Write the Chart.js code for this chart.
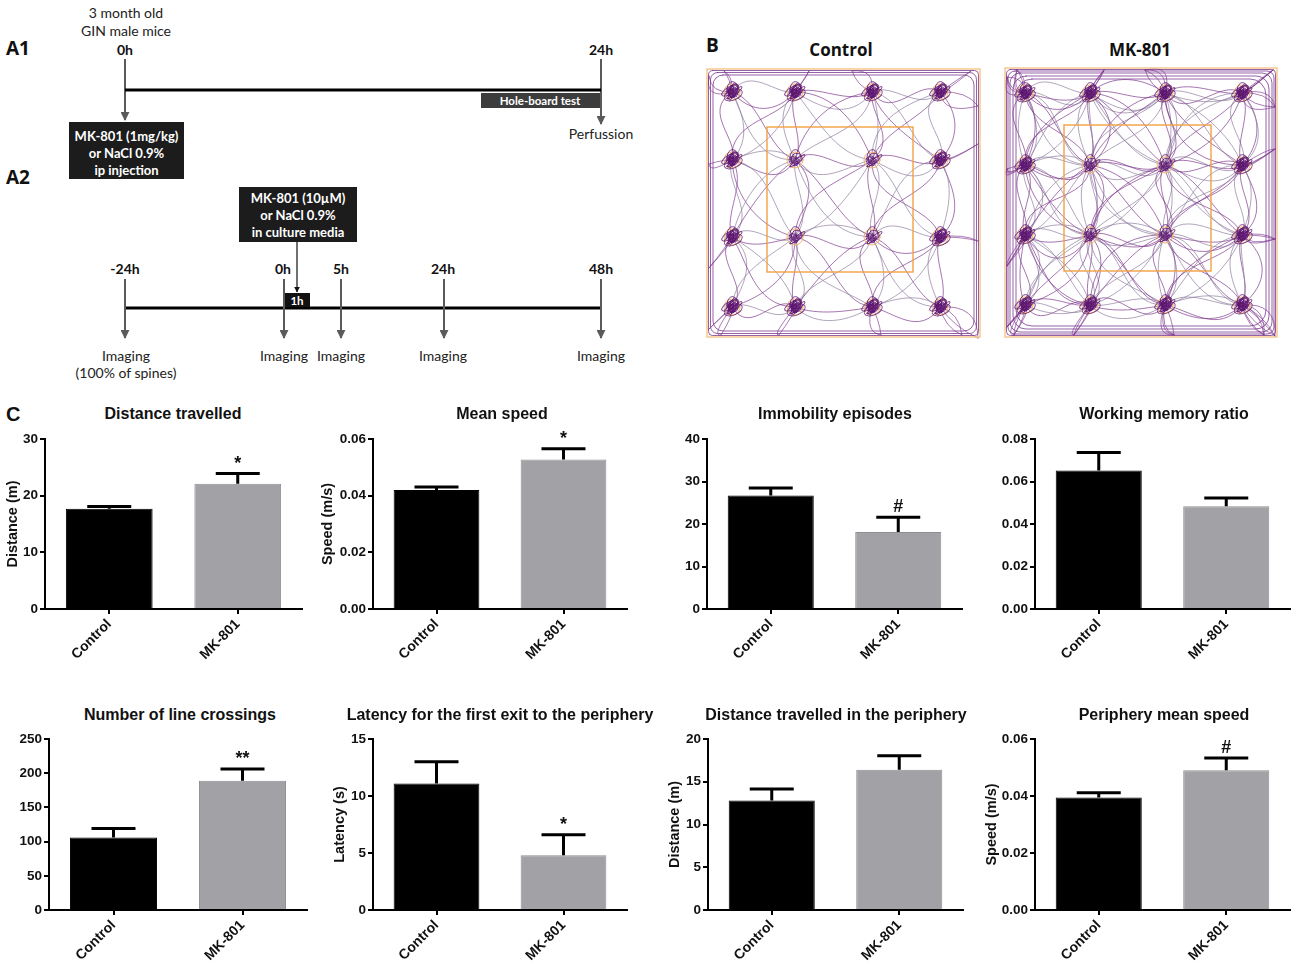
<!DOCTYPE html>
<html>
<head>
<meta charset="utf-8">
<script src="https://cdn.jsdelivr.net/npm/chart.js@4.4.0/dist/chart.umd.min.js"></script>
<style>
  body { margin: 0; background: #fff; }
  #page { position: relative; width: 1300px; height: 965px; overflow: hidden; background: #fff; }
  #diagram { position: absolute; left: 0; top: 0; }
  .ptitle { position: absolute; width: 400px; text-align: center; font: bold 16px "Liberation Sans", Arial, sans-serif; line-height: 20px; color: #111; white-space: nowrap; }
  canvas.bar { position: absolute; }
  .lt { font-family: Lato, "Open Sans", sans-serif; font-size: 14px; fill: #222; }
  .lb { font-family: Lato, "Open Sans", sans-serif; font-size: 14px; font-weight: bold; fill: #111; }
  .wb { font-family: Lato, "Open Sans", sans-serif; font-size: 13px; font-weight: bold; fill: #fff; }
  .big { font-family: "Open Sans", sans-serif; font-size: 19px; font-weight: bold; fill: #111; }
</style>
</head>
<body>
<div id="page">
<svg id="diagram" width="1300" height="965" xmlns="http://www.w3.org/2000/svg">
  <defs>
    <marker id="ah" viewBox="0 0 10 10" refX="9" refY="5" markerWidth="4.5" markerHeight="4.5" orient="auto">
      <path d="M0,0 L10,5 L0,10 z" fill="#5a5a5a"/>
    </marker>
    <marker id="ahk" viewBox="0 0 10 10" refX="9" refY="5" markerWidth="5" markerHeight="5" orient="auto">
      <path d="M0,0 L10,5 L0,10 z" fill="#111"/>
    </marker>
  </defs>

  <!-- A1 -->
  <text class="big" x="6" y="55">A1</text>
  <text class="lt" x="126" y="18" text-anchor="middle">3 month old</text>
  <text class="lt" x="126" y="36" text-anchor="middle">GIN male mice</text>
  <text class="lb" x="125" y="55" text-anchor="middle">0h</text>
  <text class="lb" x="601" y="55" text-anchor="middle">24h</text>
  <line x1="125" y1="59" x2="125" y2="120" stroke="#5a5a5a" stroke-width="2" marker-end="url(#ah)"/>
  <line x1="601" y1="59" x2="601" y2="124" stroke="#5a5a5a" stroke-width="2" marker-end="url(#ah)"/>
  <line x1="125" y1="90" x2="601" y2="90" stroke="#000" stroke-width="3"/>
  <rect x="481" y="93" width="119" height="15" fill="#3c3c3c"/>
  <text class="wb" x="540" y="105" text-anchor="middle" style="font-size:11.5px">Hole-board test</text>
  <text class="lt" x="601" y="139" text-anchor="middle">Perfussion</text>
  <rect x="69" y="122" width="115" height="57" fill="#1c1c1c"/>
  <text class="wb" x="126.5" y="141" text-anchor="middle">MK-801 (1mg/kg)</text>
  <text class="wb" x="126.5" y="158" text-anchor="middle">or NaCl 0.9%</text>
  <text class="wb" x="126.5" y="175" text-anchor="middle">ip injection</text>

  <!-- A2 -->
  <text class="big" x="6" y="184">A2</text>
  <rect x="239" y="187" width="118" height="55" fill="#1c1c1c"/>
  <text class="wb" x="298" y="203" text-anchor="middle">MK-801 (10µM)</text>
  <text class="wb" x="298" y="220" text-anchor="middle">or NaCl 0.9%</text>
  <text class="wb" x="298" y="237" text-anchor="middle">in culture media</text>
  <line x1="297" y1="242" x2="297" y2="292" stroke="#111" stroke-width="1.2" marker-end="url(#ahk)"/>
  <text class="lb" x="125" y="274" text-anchor="middle">-24h</text>
  <text class="lb" x="283" y="274" text-anchor="middle">0h</text>
  <text class="lb" x="341" y="274" text-anchor="middle">5h</text>
  <text class="lb" x="443" y="274" text-anchor="middle">24h</text>
  <text class="lb" x="601" y="274" text-anchor="middle">48h</text>
  <line x1="125" y1="308" x2="601" y2="308" stroke="#000" stroke-width="3"/>
  <rect x="284" y="293" width="26" height="14" fill="#111"/>
  <text class="wb" x="297" y="304.5" text-anchor="middle" style="font-size:11.5px">1h</text>
  <line x1="125" y1="279" x2="125" y2="338" stroke="#5a5a5a" stroke-width="2" marker-end="url(#ah)"/>
  <line x1="284" y1="279" x2="284" y2="338" stroke="#5a5a5a" stroke-width="2" marker-end="url(#ah)"/>
  <line x1="341" y1="279" x2="341" y2="338" stroke="#5a5a5a" stroke-width="2" marker-end="url(#ah)"/>
  <line x1="444" y1="279" x2="444" y2="338" stroke="#5a5a5a" stroke-width="2" marker-end="url(#ah)"/>
  <line x1="601" y1="279" x2="601" y2="338" stroke="#5a5a5a" stroke-width="2" marker-end="url(#ah)"/>
  <text class="lt" x="126" y="361" text-anchor="middle">Imaging</text>
  <text class="lt" x="126" y="378" text-anchor="middle">(100% of spines)</text>
  <text class="lt" x="284" y="361" text-anchor="middle">Imaging</text>
  <text class="lt" x="341" y="361" text-anchor="middle">Imaging</text>
  <text class="lt" x="443" y="361" text-anchor="middle">Imaging</text>
  <text class="lt" x="601" y="361" text-anchor="middle">Imaging</text>

  <!-- B -->
  <text class="big" x="706" y="52">B</text>
  <text class="big" x="841" y="56" text-anchor="middle" style="font-size:17px">Control</text>
  <text class="big" x="1140" y="56" text-anchor="middle" style="font-size:17px">MK-801</text>
  <g id="arenas"></g>

  <!-- C -->
  <text x="6" y="421" style="font:bold 20px 'Liberation Sans',Arial,sans-serif;fill:#111">C</text>
</svg>
</div>

<script>
// ---- panel C data ----
const groups = ['Control', 'MK-801'];
const titles = [
  'Distance travelled', 'Mean speed', 'Immobility episodes', 'Working memory ratio',
  'Number of line crossings', 'Latency for the first exit to the periphery',
  'Distance travelled in the periphery', 'Periphery mean speed'
];
const yTitles = ['Distance (m)', 'Speed (m/s)', '', '', '', 'Latency (s)', 'Distance (m)', 'Speed (m/s)'];
const means = [
  [17.7, 22.1], [0.042, 0.0528], [26.7, 18.1], [0.0652, 0.0483],
  [106, 189], [11.1, 4.8], [12.8, 16.4], [0.0395, 0.049]
];
const sems = [
  [0.4, 1.8], [0.0011, 0.0038], [1.8, 3.5], [0.0085, 0.0039],
  [13, 17], [1.9, 1.8], [1.35, 1.65], [0.0016, 0.0043]
];
const marks = [['', '*'], ['', '*'], ['', '#'], ['', ''], ['', '**'], ['', '*'], ['', ''], ['', '#']];
const yMax = [30, 0.06, 40, 0.08, 250, 15, 20, 0.06];
const yStep = [10, 0.02, 10, 0.02, 50, 5, 5, 0.02];
const yDecimals = [0, 2, 0, 2, 0, 0, 0, 2];

// ---- panel B arena hole positions ----
const ctrlHolesX = [732, 795, 872, 940];
const ctrlHolesY = [92, 160, 237, 307];
const mkHolesX = [1025, 1090, 1165, 1242];
const mkHolesY = [93, 165, 235, 305];

// ---- layout ----
const layout = [
  { x0: 45, x1: 302, row: 0, w: 43, tc: 173 },
  { x0: 373, x1: 627, row: 0, w: 56, tc: 502 },
  { x0: 707, x1: 962, row: 0, w: 50, tc: 835 },
  { x0: 1035, x1: 1290, row: 0, w: 50, tc: 1164 },
  { x0: 49, x1: 307, row: 1, w: 50, tc: 180 },
  { x0: 373, x1: 627, row: 1, w: 44, tc: 500 },
  { x0: 708, x1: 963, row: 1, w: 44, tc: 836 },
  { x0: 1035, x1: 1290, row: 1, w: 54, tc: 1164 }
];
const rows = [{ top: 439, bottom: 609, title: 414 }, { top: 739, bottom: 910, title: 715 }];
const PAD_T = 20, PAD_R = 12, AXIS_H = 62;
const FONT = '"Liberation Sans", Arial, sans-serif';

const page = document.getElementById('page');

// arenas (hole-board tracks, drawn as a schematic)
const NS = 'http://www.w3.org/2000/svg';
const arenasG = document.getElementById('arenas');
function el(tag, attrs, parent) {
  const e = document.createElementNS(NS, tag);
  for (const k in attrs) e.setAttribute(k, attrs[k]);
  (parent || arenasG).appendChild(e);
  return e;
}
const bends = [-16, 9, 22, -27, 4, -8, 14, -20, 31, -11];
function drawArena(box, inner, hx, hy, passes, walls) {
  const g = el('g', { fill: 'none', 'stroke-linecap': 'round' });
  const [bx, by, bw, bh] = box;
  // wall-following tracks
  walls.forEach((d, k) => el('rect', { x: bx + d, y: by + d, width: bw - 2 * d, height: bh - 2 * d, rx: 4 + k * 3, stroke: '#75308a', 'stroke-width': 0.9, 'stroke-opacity': 0.85 }, g));
  const holes = [];
  hy.forEach(y => hx.forEach(x => holes.push([x, y])));
  // tracks between neighbouring holes
  holes.forEach((a, i) => holes.forEach((b, j) => {
    if (j <= i) return;
    const gi = [i % 4, Math.floor(i / 4)], gj = [j % 4, Math.floor(j / 4)];
    if (Math.abs(gi[0] - gj[0]) > 1 || Math.abs(gi[1] - gj[1]) > 1) return;
    const dx = b[0] - a[0], dy = b[1] - a[1], len = Math.hypot(dx, dy);
    const nx = -dy / len, ny = dx / len;
    for (let k = 0; k < passes; k++) {
      const o1 = bends[(i + 2 * j + k) % bends.length];
      const o2 = bends[(3 * i + j + 2 * k + 1) % bends.length];
      const c1x = a[0] + dx * 0.3 + nx * o1, c1y = a[1] + dy * 0.3 + ny * o1;
      const c2x = a[0] + dx * 0.7 + nx * o2, c2y = a[1] + dy * 0.7 + ny * o2;
      el('path', { d: `M${a[0]},${a[1]} C${c1x},${c1y} ${c2x},${c2y} ${b[0]},${b[1]}`, stroke: k % 2 ? '#8c7a9c' : '#7a338a', 'stroke-width': 0.8, 'stroke-opacity': 0.85 }, g);
    }
  }));
  // tracks from edge holes to the nearest wall
  holes.forEach(([x, y], i) => {
    const c = i % 4, r = Math.floor(i / 4);
    const ends = [];
    if (c === 0) ends.push([bx + 2, y + bends[i % 10]]);
    if (c === 3) ends.push([bx + bw - 2, y + bends[(i + 3) % 10]]);
    if (r === 0) ends.push([x + bends[(i + 5) % 10], by + 2]);
    if (r === 3) ends.push([x + bends[(i + 7) % 10], by + bh - 2]);
    ends.forEach(([ex, ey], k) => {
      for (let p = 0; p < passes; p++) {
        const o = bends[(i + k + p * 3) % 10] * 0.6;
        el('path', { d: `M${x},${y} Q${(x + ex) / 2 + o},${(y + ey) / 2 - o} ${ex},${ey}`, stroke: '#7a338a', 'stroke-width': 0.8, 'stroke-opacity': 0.8 }, g);
      }
    });
  });
  // dense scribbles at holes
  holes.forEach(([x, y], i) => {
    el('circle', { cx: x, cy: y, r: 8, stroke: '#f3b36a', 'stroke-width': 1 }, g);
    const outer = (i % 4 === 0 || i % 4 === 3 || i < 4 || i > 11);
    const n = outer ? 14 : 6;
    for (let k = 0; k < n; k++) {
      const ox = Math.cos(k * 2.4) * (1 + (k % 4)), oy = Math.sin(k * 2.4) * (1 + (k % 3));
      el('ellipse', {
        cx: x + ox, cy: y + oy, rx: 3 + (k % 4) * 2.2, ry: 2 + (k % 3) * 1.6,
        transform: `rotate(${k * 47} ${x + ox} ${y + oy})`,
        stroke: '#5e1670', 'stroke-width': 0.9, 'stroke-opacity': 0.85
      }, g);
    }
  });
  el('rect', { x: inner[0], y: inner[1], width: inner[2], height: inner[3], stroke: '#f2a044', 'stroke-width': 1.4 }, g);
  el('rect', { x: bx, y: by, width: bw, height: bh, stroke: '#f6c488', 'stroke-width': 1.4 }, g);
}
drawArena([707, 69, 273, 268], [767, 127, 146, 145], ctrlHolesX, ctrlHolesY, 2, [1.5, 3.5, 6]);
drawArena([1005, 68, 272, 269], [1064, 125, 147, 146], mkHolesX, mkHolesY, 4, [1.5, 3, 5, 8, 11]);

// error bars + significance marks
const errorBars = {
  id: 'errorBars',
  afterDatasetsDraw(chart) {
    const ctx = chart.ctx;
    const ys = chart.scales.y;
    const ds = chart.data.datasets[0];
    chart.getDatasetMeta(0).data.forEach((bar, j) => {
      const top = ys.getPixelForValue(ds.data[j] + ds.sem[j]);
      ctx.save();
      ctx.strokeStyle = '#000';
      ctx.lineWidth = 3;
      ctx.beginPath();
      ctx.moveTo(bar.x, bar.y);
      ctx.lineTo(bar.x, top);
      ctx.moveTo(bar.x - 22, top);
      ctx.lineTo(bar.x + 22, top);
      ctx.stroke();
      if (ds.marks[j]) {
        ctx.fillStyle = '#111';
        ctx.font = 'bold 18px ' + FONT;
        ctx.textAlign = 'center';
        ctx.textBaseline = 'alphabetic';
        ctx.fillText(ds.marks[j], bar.x, top - 5);
      }
      ctx.restore();
    });
  }
};

means.forEach((m, i) => {
  const L = layout[i];
  const R = rows[L.row];
  const w = L.w + (L.x1 - L.x0) + PAD_R;
  const h = PAD_T + (R.bottom - R.top) + AXIS_H;

  const t = document.createElement('div');
  t.className = 'ptitle';
  t.style.left = (L.tc - 200) + 'px';
  t.style.top = (R.title - 10) + 'px';
  t.textContent = titles[i];
  page.appendChild(t);

  const c = document.createElement('canvas');
  c.className = 'bar';
  c.width = w;
  c.height = h;
  c.style.left = (L.x0 - L.w) + 'px';
  c.style.top = (R.top - PAD_T) + 'px';
  c.style.width = w + 'px';
  c.style.height = h + 'px';
  page.appendChild(c);

  new Chart(c, {
    type: 'bar',
    data: {
      labels: groups,
      datasets: [{
        data: m,
        sem: sems[i],
        marks: marks[i],
        backgroundColor: ['#000000', '#a2a2a6'],
        borderColor: ['#000000', '#8e8e92'],
        borderWidth: 1,
        barPercentage: 0.675,
        categoryPercentage: 1
      }]
    },
    options: {
      responsive: false,
      animation: false,
      layout: { padding: { top: PAD_T, right: PAD_R, left: 0, bottom: 0 } },
      plugins: { legend: { display: false }, tooltip: { enabled: false } },
      scales: {
        x: {
          offset: true,
          ticks: { maxRotation: 45, minRotation: 45, padding: 2, color: '#111', font: { family: FONT, size: 14, weight: 'bold' } },
          grid: { offset: false, drawOnChartArea: false, tickLength: 5, color: '#000', lineWidth: 2 },
          border: { color: '#000', width: 2 },
          afterFit: s => { s.height = AXIS_H; }
        },
        y: {
          min: 0,
          max: yMax[i],
          ticks: {
            stepSize: yStep[i],
            padding: 2,
            color: '#111',
            font: { family: FONT, size: 13.5, weight: 'bold' },
            callback: v => Number(v).toFixed(yDecimals[i])
          },
          grid: { drawOnChartArea: false, tickLength: 5, color: '#000', lineWidth: 2 },
          border: { color: '#000', width: 2 },
          title: {
            display: !!yTitles[i],
            text: yTitles[i],
            color: '#111',
            font: { family: FONT, size: 14.5, weight: 'bold' },
            padding: { top: 2, bottom: 0 }
          },
          afterFit: s => { s.width = L.w; }
        }
      }
    },
    plugins: [errorBars]
  });
});
</script>
</body>
</html>
